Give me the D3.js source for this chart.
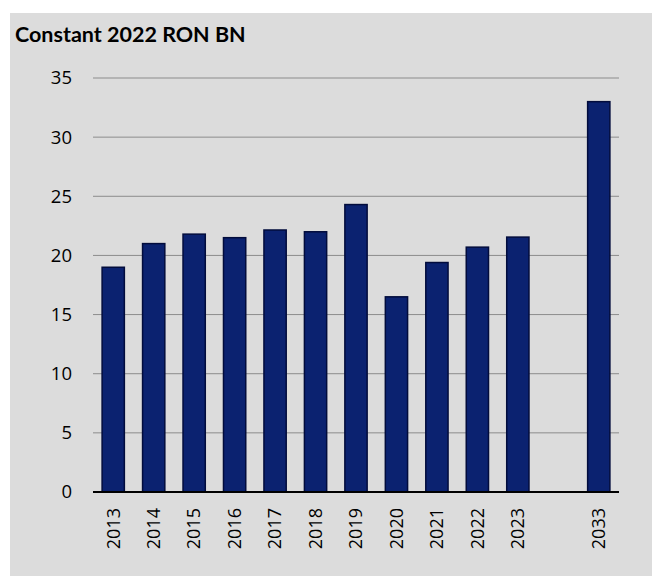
<!DOCTYPE html>
<html>
<head>
<meta charset="utf-8">
<script src="https://cdn.jsdelivr.net/npm/d3@7"></script>
<style>
  body { margin: 0; background: #fff; }
  svg { display: block; }
</style>
</head>
<body>
<svg width="652" height="576"></svg>
<script>
// years on the x axis, "" is the empty slot before 2033
const years = ["2013", "2014", "2015", "2016", "2017", "2018", "2019", "2020", "2021", "2022", "2023", "", "2033"];
const values = [19.0, 21.0, 21.8, 21.5, 22.15, 22.0, 24.3, 16.5, 19.4, 20.7, 21.55, null, 33.0];
const yTicks = [0, 5, 10, 15, 20, 25, 30, 35];

const svg = d3.select("svg");
const margin = { left: 93, right: 33, top: 78, bottom: 84 };
const width = 652, height = 576;
const tickFont = "'Open Sans', sans-serif";

svg.append("rect")
    .attr("x", 10).attr("y", 13)
    .attr("width", width - 10).attr("height", height - 13)
    .attr("fill", "#dcdcdc");

svg.append("text")
    .attr("x", 15).attr("y", 42)
    .style("font-family", "Lato, 'Open Sans', sans-serif")
    .style("font-weight", "bold")
    .style("font-size", "21.5px")
    .attr("fill", "#000")
    .text("Constant 2022 RON BN");

const x = d3.scaleBand()
    .domain(d3.range(years.length))
    .range([margin.left, width - margin.right])
    .paddingInner(0.45)
    .paddingOuter(0.225);

const y = d3.scaleLinear()
    .domain([0, 35])
    .range([height - margin.bottom, margin.top]);

// gridlines
svg.append("g")
    .selectAll("line")
    .data(yTicks.filter(d => d > 0))
    .join("line")
    .attr("x1", margin.left)
    .attr("x2", width - margin.right)
    .attr("y1", d => y(d))
    .attr("y2", d => y(d))
    .attr("stroke", "#8c8c8c")
    .attr("stroke-width", 1);

// y labels
svg.append("g")
    .selectAll("text")
    .data(yTicks)
    .join("text")
    .attr("x", 72)
    .attr("y", d => y(d))
    .attr("dy", "0.35em")
    .attr("text-anchor", "end")
    .style("font-family", tickFont)
    .style("font-size", "18.5px")
    .attr("fill", "#000")
    .text(d => d);

// bars
svg.append("g")
    .selectAll("rect")
    .data(values.map((v, i) => ({ v, i })).filter(d => d.v !== null))
    .join("rect")
    .attr("x", d => x(d.i))
    .attr("y", d => y(d.v))
    .attr("width", x.bandwidth())
    .attr("height", d => y(0) - y(d.v))
    .attr("fill", "#0b2270")
    .attr("stroke", "#020c3c")
    .attr("stroke-width", 1.5);

// axis line
svg.append("line")
    .attr("x1", margin.left)
    .attr("x2", width - margin.right)
    .attr("y1", y(0))
    .attr("y2", y(0))
    .attr("stroke", "#000")
    .attr("stroke-width", 2);

// x labels
svg.append("g")
    .selectAll("text")
    .data(years.map((t, i) => ({ t, i })).filter(d => d.t !== ""))
    .join("text")
    .attr("transform", d => `translate(${x(d.i) + x.bandwidth() / 2},${y(0) + 16}) rotate(-90)`)
    .attr("dy", "0.35em")
    .attr("text-anchor", "end")
    .style("font-family", tickFont)
    .style("font-size", "18px")
    .attr("fill", "#000")
    .text(d => d.t);
</script>
</body>
</html>
